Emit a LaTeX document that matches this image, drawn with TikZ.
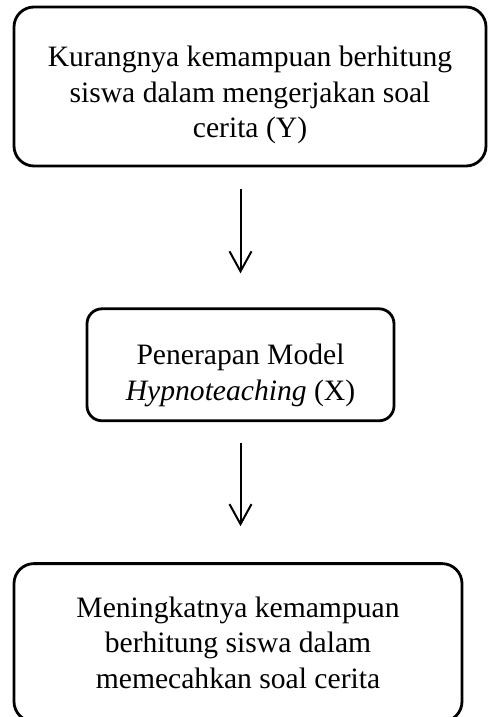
\documentclass[tikz,border=0pt]{standalone}
\usepackage{fontspec}
\setmainfont{Liberation Serif}
\usetikzlibrary{arrows.meta,positioning}
\newcommand{\lift}[1]{\rule{0pt}{#1}}

\begin{document}
\begin{tikzpicture}[->,>={Straight Barb[length=10pt,width=11pt]},line width=1pt,x=0.5pt,y=-0.5pt,node distance=70pt]
		\tikzstyle{box}=[draw=black,line width=1.4pt,rounded corners=10pt,align=center,font=\fontsize{14.8pt}{17.75pt}\selectfont]
		\useasboundingbox (0,0) rectangle (487,717);

		\node[box,minimum width=236pt,minimum height=79.5pt] (Y) at (250,86.5) {\lift{19pt}Kurangnya kemampuan berhitung\\siswa dalam mengerjakan soal\\cerita (Y)};
		\node[box,minimum width=153.5pt,minimum height=56pt,rounded corners=7.5pt] (X) [below=of Y,xshift=-4.75pt] {\lift{21pt}Penerapan Model\\\textit{Hypnoteaching} (X)};
		\node[box,minimum width=224pt,minimum height=79pt] (Z) [below=of X,xshift=-1.25pt] {Meningkatnya kemampuan\\berhitung siswa dalam\\memecahkan soal cerita};

		\draw[shorten <=11pt,shorten >=17pt] (X.north |- Y.south) -- (X.north);
		\draw[shorten <=10.5pt,shorten >=18pt] (X.south) -- (X.south |- Z.north);
	\end{tikzpicture}
\end{document}
